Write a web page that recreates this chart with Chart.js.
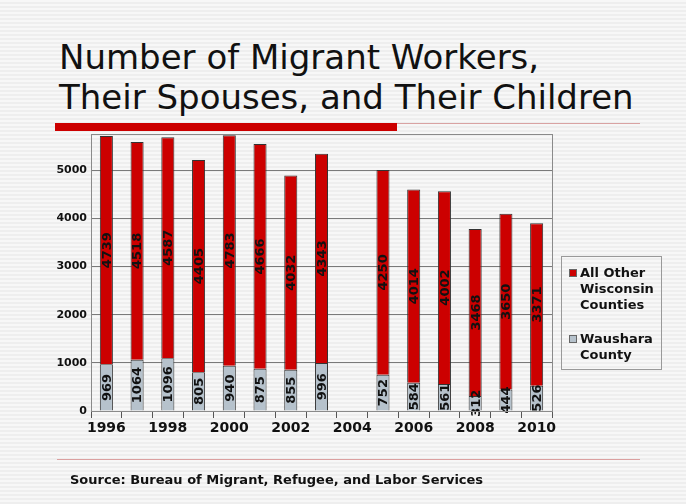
<!DOCTYPE html>
<html>
<head>
<meta charset="utf-8">
<script src="https://cdn.jsdelivr.net/npm/chart.js@4"></script>
<style>
  html, body { margin: 0; padding: 0; }
  body {
    width: 686px; height: 504px; position: relative; overflow: hidden;
    background: repeating-linear-gradient(to bottom, #f7f7f7 0 2px, #eeeeee 2px 4px);
    font-family: "DejaVu Sans", Verdana, sans-serif;
  }
  #title { position: absolute; left: 59px; top: 37px; font-size: 34px; line-height: 40px; color: #111; }
  #redbar { position: absolute; left: 55px; top: 123px; width: 342px; height: 8px; background: #cc0000; }
  #thinline { position: absolute; left: 397px; top: 123px; width: 243px; height: 1px; background: #d9a3a3; }
  #bottomline { position: absolute; left: 57px; top: 459px; width: 583px; height: 1px; background: #dba0a0; }
  #source { position: absolute; left: 70px; top: 472px; font-size: 13px; font-weight: bold; color: #111; }
  #wrap { position: absolute; left: 0; top: 0; width: 686px; height: 504px; }
  #legend { position: absolute; left: 561px; top: 256px; width: 101px; height: 114px; border: 1px solid #999;
    box-sizing: border-box; font-size: 13px; font-weight: bold; line-height: 16px; color: #111; }
  .item { position: absolute; left: 18px; }
  .sw { position: absolute; left: -11px; top: 4px; width: 8px; height: 8px; border: 1px solid #666; box-sizing: border-box; }
</style>
</head>
<body>
<div id="title">Number of Migrant Workers,<br>Their Spouses, and Their Children</div>
<div id="redbar"></div>
<div id="thinline"></div>
<div id="wrap"><canvas id="myChart" width="686" height="504"></canvas></div>
<div id="legend">
  <div class="item" style="top:8px"><span class="sw" style="background:#cc0000"></span>All Other<br>Wisconsin<br>Counties</div>
  <div class="item" style="top:74px"><span class="sw" style="background:#b6c2cc"></span>Waushara<br>County</div>
</div>
<div id="bottomline"></div>
<div id="source">Source: Bureau of Migrant, Refugee, and Labor Services</div>
<script>
const years = ['1996','1997','1998','1999','2000','2001','2002','2003','2004','2005','2006','2007','2008','2009','2010'];
const waushara = [969, 1064, 1096, 805, 940, 875, 855, 996, null, 752, 584, 561, 312, 444, 526];
const otherCounties = [4739, 4518, 4587, 4405, 4783, 4666, 4032, 4343, null, 4250, 4014, 4002, 3468, 3650, 3371];
const yTicks = [0, 1000, 2000, 3000, 4000, 5000];

// values written sideways inside each bar segment
const barLabels = {
  id: 'barLabels',
  afterDatasetsDraw(chart) {
    const ctx = chart.ctx;
    ctx.save();
    ctx.font = 'bold 13px "DejaVu Sans"';
    ctx.fillStyle = '#111';
    ctx.textAlign = 'center';
    ctx.textBaseline = 'middle';
    chart.data.datasets.forEach((ds, i) => {
      chart.getDatasetMeta(i).data.forEach((el, j) => {
        const v = ds.data[j];
        if (v == null) return;
        ctx.save();
        ctx.translate(el.x, (el.y + el.base) / 2);
        ctx.rotate(-Math.PI / 2);
        ctx.fillText(String(v), 0, 1);
        ctx.restore();
      });
    });
    ctx.restore();
  }
};

// grey frame round the plot area
const plotFrame = {
  id: 'plotFrame',
  afterDraw(chart) {
    const a = chart.chartArea, ctx = chart.ctx;
    ctx.save();
    ctx.strokeStyle = '#8a8a8a';
    ctx.lineWidth = 1;
    ctx.strokeRect(a.left + 0.5, a.top + 0.5, a.right - a.left, a.bottom - a.top);
    ctx.restore();
  }
};

const ctx = document.getElementById('myChart');
new Chart(ctx, {
  type: 'bar',
  data: {
    labels: years,
    datasets: [{
      label: 'Waushara County',
      data: waushara,
      backgroundColor: '#b6c2cc',
      borderColor: '#333',
      borderWidth: 1,
      barPercentage: 0.85,
      categoryPercentage: 0.5
    }, {
      label: 'All Other Wisconsin Counties',
      data: otherCounties,
      backgroundColor: '#cc0000',
      borderColor: '#333',
      borderWidth: 1,
      barPercentage: 0.85,
      categoryPercentage: 0.5
    }]
  },
  options: {
    responsive: false,
    animation: false,
    layout: { padding: { left: 0, right: 134, top: 134, bottom: 53 } },
    plugins: { legend: { display: false }, tooltip: { enabled: false } },
    scales: {
      x: {
        stacked: true,
        grid: { drawOnChartArea: false, offset: true, tickLength: 7, color: '#555' },
        border: { color: '#8a8a8a' },
        ticks: {
          autoSkip: false, maxRotation: 0, color: '#111', padding: 2,
          font: { family: 'DejaVu Sans', size: 14, weight: 'bold' },
          callback: (v, i) => (i % 2 === 0 ? years[i] : '')
        },
        afterFit: s => { s.height = 40; }
      },
      y: {
        stacked: true,
        min: 0, max: 5750,
        afterBuildTicks: s => { s.ticks = yTicks.map(v => ({ value: v })); },
        grid: { color: '#7a7a7a', tickLength: 0 },
        border: { color: '#8a8a8a' },
        ticks: {
          color: '#111', padding: 4, font: { family: 'DejaVu Sans', size: 11, weight: 'bold' },
          callback: v => String(v)
        },
        afterFit: s => { s.width = 91; }
      }
    }
  },
  plugins: [barLabels, plotFrame]
});
</script>
</body>
</html>
